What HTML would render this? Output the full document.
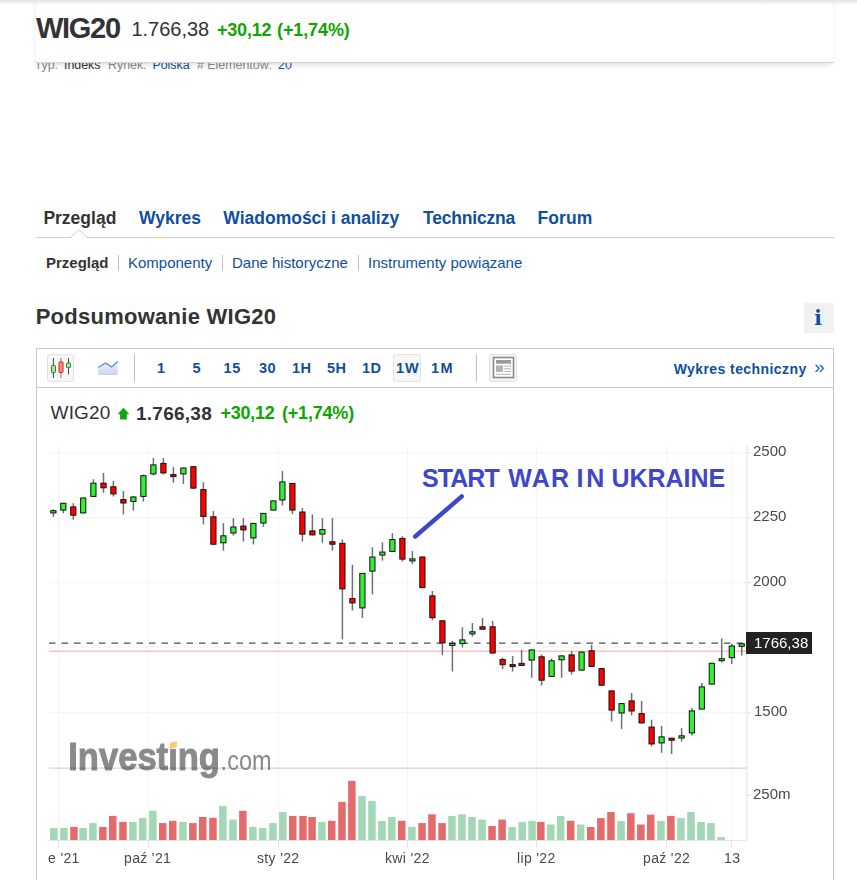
<!DOCTYPE html>
<html lang="pl">
<head>
<meta charset="utf-8">
<title>WIG20 - Podsumowanie</title>
<style>
*{box-sizing:border-box;margin:0;padding:0}
html,body{width:857px;height:880px;overflow:hidden;background:#fff}
body{position:relative;font-family:"Liberation Sans",Arial,sans-serif;color:#333}
.t{position:absolute;white-space:nowrap;line-height:1}
.b{font-weight:bold}
.blue{color:#0f4f9e}
.grn{color:#0ea600}
.gray{color:#8a8a8a}
#topshadow{position:absolute;left:0;top:0;width:857px;height:5px;background:linear-gradient(#e2e2e2,rgba(255,255,255,0))}
#sticky{position:absolute;left:35px;top:-10px;width:799px;height:72px;background:#fff;border-left:1px solid #f7f7f7;border-right:1px solid #f7f7f7;box-shadow:0 1px 0 #d4d4d4,0 5px 6px -3px rgba(0,0,0,.16)}
#tabline{position:absolute;left:36px;top:237px;width:798px;height:1px;background:#cfcfcf}
.sep{position:absolute;width:1px;background:#c4c4c4}
#info{position:absolute;left:804px;top:303px;width:30px;height:30px;background:#f1f1f1}
#chartbox{position:absolute;left:36px;top:348px;width:798px;height:600px;border:1px solid #c9c9c9}
#tb{position:absolute;left:36px;top:387px;width:798px;height:1px;background:#c9c9c9}
.btn{position:absolute;border:1px solid #e2e2e2;background:#f6f6f6;border-radius:3px}
.vsep{position:absolute;width:1px;background:#c3c3c3}
.tf{position:absolute;top:361px;font-size:14.5px;letter-spacing:0.5px;font-weight:bold;color:#0f4f9e;line-height:14px}
.ax{position:absolute;font-size:14px;letter-spacing:0.35px;color:#4a4a4a;line-height:14px;white-space:nowrap}
</style>
</head>
<body>

<!-- sub header (partly hidden under sticky bar) -->
<div class="t gray" style="left:34.6px;top:58.6px;font-size:12.4px">Typ:</div>
<div class="t" style="left:64px;top:58.6px;font-size:12.4px">Indeks</div>
<div class="t gray" style="left:108px;top:58.6px;font-size:12.4px">Rynek:</div>
<div class="t blue" style="left:152.4px;top:58.6px;font-size:12.4px">Polska</div>
<div class="t gray" style="left:197px;top:58.6px;font-size:12.4px"># Elementów:</div>
<div class="t blue" style="left:278px;top:58.6px;font-size:12.4px">20</div>

<!-- sticky header -->
<div id="sticky"></div>
<div class="t b" style="left:36px;top:13.5px;font-size:29px;letter-spacing:-1.3px;color:#333">WIG20</div>
<div class="t" style="left:131.4px;top:19.2px;font-size:20px;color:#333">1.766,38</div>
<div class="t b grn" style="left:217px;top:21px;font-size:18px;letter-spacing:-0.2px">+30,12</div>
<div class="t b grn" style="left:277px;top:21px;font-size:18px;letter-spacing:-0.1px">(+1,74%)</div>

<div id="topshadow"></div>
<!-- main tabs -->
<div class="t b" style="left:43.4px;top:209.7px;font-size:17.5px;color:#333">Przegląd</div>
<div class="t b blue" style="left:139px;top:209.7px;font-size:17.5px">Wykres</div>
<div class="t b blue" style="left:223.3px;top:209.7px;font-size:17.5px">Wiadomości i analizy</div>
<div class="t b blue" style="left:423px;top:209.7px;font-size:17.5px;letter-spacing:-0.2px">Techniczna</div>
<div class="t b blue" style="left:537.4px;top:209.7px;font-size:17.5px;letter-spacing:0.1px">Forum</div>
<div id="tabline"></div>
<svg style="position:absolute;left:70px;top:229px" width="19" height="10" viewBox="0 0 19 10"><polygon points="0.5,8.5 9,0.8 17.5,8.5" fill="#fff" stroke="#cfcfcf" stroke-width="1"/><rect x="1.5" y="8" width="15" height="2" fill="#fff"/></svg>

<!-- sub tabs -->
<div class="t b" style="left:46px;top:255px;font-size:15px;color:#333">Przegląd</div>
<div class="sep" style="left:118px;top:255px;height:15.5px"></div>
<div class="t blue" style="left:128px;top:255px;font-size:15px">Komponenty</div>
<div class="sep" style="left:222px;top:255px;height:15.5px"></div>
<div class="t blue" style="left:232px;top:255px;font-size:15px">Dane historyczne</div>
<div class="sep" style="left:358px;top:255px;height:15.5px"></div>
<div class="t blue" style="left:368px;top:255px;font-size:15px">Instrumenty powiązane</div>

<!-- heading -->
<div class="t b" style="left:35.7px;top:306.2px;font-size:22px;letter-spacing:0.26px;color:#333">Podsumowanie WIG20</div>
<div id="info"></div>
<div class="t b blue" style="left:814.2px;top:307.6px;font-size:20px;font-family:'DejaVu Serif',serif">i</div>

<!-- chart box -->
<div id="chartbox"></div>
<div id="tb"></div>
<!-- candle icon button -->
<div class="btn" style="left:47px;top:354px;width:27px;height:28px"></div>
<svg style="position:absolute;left:47px;top:354px" width="27" height="28" viewBox="0 0 27 28">
<line x1="6.4" y1="4" x2="6.4" y2="24" stroke="#444" stroke-width="1"/>
<rect x="4.5" y="11.5" width="4" height="7" rx="0.6" fill="#a6dca6" stroke="#1f9a1f" stroke-width="1"/>
<line x1="13.9" y1="4" x2="13.9" y2="24" stroke="#777" stroke-width="1"/>
<rect x="12" y="8" width="4" height="10.5" rx="0.8" fill="#f88" stroke="#d42020" stroke-width="1"/>
<line x1="21.5" y1="4" x2="21.5" y2="20.5" stroke="#444" stroke-width="1"/>
<rect x="19.5" y="9" width="4" height="4.6" rx="0.6" fill="#a6dca6" stroke="#1f9a1f" stroke-width="1"/>
</svg>
<!-- line icon -->
<svg style="position:absolute;left:96px;top:359px" width="24" height="18" viewBox="0 0 24 18">
<defs><linearGradient id="lg" x1="0" y1="0" x2="0" y2="1"><stop offset="0" stop-color="#eef2fb"/><stop offset="1" stop-color="#c9d6f1"/></linearGradient></defs>
<polygon points="2.2,8.5 9.5,4 15.6,7.9 21.7,2.4 21.7,15.5 2.2,15.5" fill="url(#lg)"/>
<line x1="2.2" y1="15.5" x2="21.7" y2="15.5" stroke="#c9cfdc" stroke-width="1"/>
<polyline points="2.2,8.5 9.5,4 15.6,7.9 21.7,2.4" fill="none" stroke="#5d8ccb" stroke-width="1.3"/>
</svg>
<div class="vsep" style="left:134px;top:354px;height:28px"></div>
<div class="tf" style="left:157px">1</div>
<div class="tf" style="left:192.4px">5</div>
<div class="tf" style="left:223.6px">15</div>
<div class="tf" style="left:259px">30</div>
<div class="tf" style="left:292px">1H</div>
<div class="tf" style="left:327px">5H</div>
<div class="btn" style="left:393px;top:354px;width:28px;height:28px"></div>
<div class="tf" style="left:362px">1D</div>
<div class="tf" style="left:396px;letter-spacing:1px">1W</div>
<div class="tf" style="left:431px;letter-spacing:1.4px">1M</div>
<div class="vsep" style="left:476px;top:354px;height:28px"></div>
<div class="btn" style="left:489px;top:354px;width:28px;height:28px"></div>
<svg style="position:absolute;left:489px;top:354px" width="28" height="28" viewBox="0 0 28 28">
<rect x="4.5" y="3.5" width="20" height="20" fill="#fff" stroke="#8a8a8a" stroke-width="1.6"/>
<rect x="7" y="6" width="15" height="3.7" fill="#999"/>
<rect x="7" y="11.4" width="7" height="6.6" fill="#b4b4b4"/>
<rect x="15.2" y="11.6" width="6.8" height="1.1" fill="#bbb"/>
<rect x="15.2" y="14.2" width="6.8" height="1.1" fill="#bbb"/>
<rect x="15.2" y="16.9" width="6.8" height="1.1" fill="#bbb"/>
<rect x="7" y="19.8" width="15" height="1.1" fill="#bbb"/>
</svg>
<div class="t b blue" style="left:673.7px;top:361.6px;font-size:14px;letter-spacing:0.42px;line-height:14px">Wykres techniczny</div>
<div class="t blue" style="left:814.3px;top:356.5px;font-size:18.5px;line-height:19px;color:#2a5fa8">»</div>

<!-- chart header -->
<div class="t" style="left:50.5px;top:403px;font-size:19px;letter-spacing:0.2px;color:#333">WIG20</div>
<svg style="position:absolute;left:117px;top:407px" width="13" height="13" viewBox="0 0 13 13"><polygon points="6.5,0.8 12.4,7.2 9.8,7.2 9.8,12.5 3.1,12.5 3.1,7.2 0.6,7.2" fill="#10a60a"/></svg>
<div class="t b" style="left:136px;top:404.2px;font-size:19px;letter-spacing:0.25px;color:#333">1.766,38</div>
<div class="t b grn" style="left:220.5px;top:403.6px;font-size:18px;letter-spacing:-0.25px">+30,12</div>
<div class="t b grn" style="left:282px;top:403.6px;font-size:18px;letter-spacing:-0.2px">(+1,74%)</div>

<!-- chart -->
<svg style="position:absolute;left:0;top:0" width="857" height="880" viewBox="0 0 857 880">
<defs><clipPath id="plot"><rect x="49" y="440" width="697.5" height="330"/></clipPath></defs>
<line x1="49" y1="452.7" x2="746" y2="452.7" stroke="#f6f6f6" stroke-width="1.5"/>
<line x1="49" y1="517.9" x2="746" y2="517.9" stroke="#f6f6f6" stroke-width="1.5"/>
<line x1="49" y1="582.6" x2="746" y2="582.6" stroke="#f6f6f6" stroke-width="1.5"/>
<line x1="49" y1="647.6" x2="746" y2="647.6" stroke="#f6f6f6" stroke-width="1.5"/>
<line x1="49" y1="712.8" x2="746" y2="712.8" stroke="#f6f6f6" stroke-width="1.5"/>
<line x1="58.5" y1="445" x2="58.5" y2="840" stroke="#f5f5f7" stroke-width="1"/>
<line x1="148.5" y1="445" x2="148.5" y2="840" stroke="#f5f5f7" stroke-width="1"/>
<line x1="278.5" y1="445" x2="278.5" y2="840" stroke="#f5f5f7" stroke-width="1"/>
<line x1="407.5" y1="445" x2="407.5" y2="840" stroke="#f5f5f7" stroke-width="1"/>
<line x1="536.5" y1="445" x2="536.5" y2="840" stroke="#f5f5f7" stroke-width="1"/>
<line x1="666.5" y1="445" x2="666.5" y2="840" stroke="#f5f5f7" stroke-width="1"/>
<line x1="731.5" y1="445" x2="731.5" y2="840" stroke="#f5f5f7" stroke-width="1"/>
<rect x="50.1" y="828.0" width="7.5" height="12.0" fill="#a3d7b5"/>
<rect x="60.2" y="828.0" width="7.5" height="12.0" fill="#a3d7b5"/>
<rect x="70.2" y="826.9" width="7.5" height="13.1" fill="#e46b6b"/>
<rect x="79.3" y="828.0" width="7.5" height="12.0" fill="#a3d7b5"/>
<rect x="89.2" y="823.1" width="7.5" height="16.9" fill="#a3d7b5"/>
<rect x="99.1" y="826.9" width="7.5" height="13.1" fill="#e46b6b"/>
<rect x="109.0" y="815.9" width="7.5" height="24.1" fill="#e46b6b"/>
<rect x="119.2" y="821.9" width="7.5" height="18.1" fill="#e46b6b"/>
<rect x="129.1" y="821.9" width="7.5" height="18.1" fill="#a3d7b5"/>
<rect x="139.0" y="818.0" width="7.5" height="22.0" fill="#a3d7b5"/>
<rect x="149.1" y="810.8" width="7.5" height="29.2" fill="#a3d7b5"/>
<rect x="159.0" y="823.1" width="7.5" height="16.9" fill="#e46b6b"/>
<rect x="169.0" y="820.8" width="7.5" height="19.2" fill="#e46b6b"/>
<rect x="179.2" y="821.9" width="7.5" height="18.1" fill="#a3d7b5"/>
<rect x="189.1" y="823.1" width="7.5" height="16.9" fill="#e46b6b"/>
<rect x="199.0" y="817.0" width="7.5" height="23.0" fill="#e46b6b"/>
<rect x="209.2" y="817.8" width="7.5" height="22.2" fill="#e46b6b"/>
<rect x="219.1" y="805.9" width="7.5" height="34.1" fill="#a3d7b5"/>
<rect x="229.25" y="819.6" width="7.5" height="20.4" fill="#a3d7b5"/>
<rect x="239.1" y="810.8" width="7.5" height="29.2" fill="#e46b6b"/>
<rect x="249.1" y="826.9" width="7.5" height="13.1" fill="#a3d7b5"/>
<rect x="259.0" y="828.0" width="7.5" height="12.0" fill="#a3d7b5"/>
<rect x="269.2" y="823.1" width="7.5" height="16.9" fill="#a3d7b5"/>
<rect x="279.1" y="812.0" width="7.5" height="28.0" fill="#a3d7b5"/>
<rect x="289.0" y="815.9" width="7.5" height="24.1" fill="#e46b6b"/>
<rect x="299.2" y="815.9" width="7.5" height="24.1" fill="#e46b6b"/>
<rect x="308.3" y="817.0" width="7.5" height="23.0" fill="#e46b6b"/>
<rect x="318.15" y="821.9" width="7.5" height="18.1" fill="#a3d7b5"/>
<rect x="328.0" y="820.8" width="7.5" height="19.2" fill="#e46b6b"/>
<rect x="338.2" y="801.9" width="7.5" height="38.1" fill="#e46b6b"/>
<rect x="348.1" y="780.9" width="7.5" height="59.1" fill="#e46b6b"/>
<rect x="358.2" y="795.9" width="7.5" height="44.1" fill="#a3d7b5"/>
<rect x="368.2" y="800.9" width="7.5" height="39.1" fill="#a3d7b5"/>
<rect x="378.2" y="821.0" width="7.5" height="19.0" fill="#a3d7b5"/>
<rect x="388.1" y="817.0" width="7.5" height="23.0" fill="#a3d7b5"/>
<rect x="398.0" y="820.8" width="7.5" height="19.2" fill="#e46b6b"/>
<rect x="408.15" y="826.9" width="7.5" height="13.1" fill="#a3d7b5"/>
<rect x="418.3" y="823.1" width="7.5" height="16.9" fill="#e46b6b"/>
<rect x="428.2" y="814.3" width="7.5" height="25.7" fill="#e46b6b"/>
<rect x="438.3" y="823.1" width="7.5" height="16.9" fill="#e46b6b"/>
<rect x="448.2" y="815.9" width="7.5" height="24.1" fill="#a3d7b5"/>
<rect x="458.2" y="814.3" width="7.5" height="25.7" fill="#a3d7b5"/>
<rect x="468.2" y="817.0" width="7.5" height="23.0" fill="#a3d7b5"/>
<rect x="478.3" y="819.6" width="7.5" height="20.4" fill="#a3d7b5"/>
<rect x="488.3" y="826.0" width="7.5" height="14.0" fill="#e46b6b"/>
<rect x="498.35" y="819.6" width="7.5" height="20.4" fill="#e46b6b"/>
<rect x="508.3" y="826.9" width="7.5" height="13.1" fill="#a3d7b5"/>
<rect x="518.4" y="821.9" width="7.5" height="18.1" fill="#a3d7b5"/>
<rect x="528.3" y="820.8" width="7.5" height="19.2" fill="#a3d7b5"/>
<rect x="537.1" y="821.9" width="7.5" height="18.1" fill="#e46b6b"/>
<rect x="547.0" y="824.5" width="7.5" height="15.5" fill="#a3d7b5"/>
<rect x="556.9" y="815.9" width="7.5" height="24.1" fill="#a3d7b5"/>
<rect x="566.9" y="820.8" width="7.5" height="19.2" fill="#e46b6b"/>
<rect x="576.9" y="824.5" width="7.5" height="15.5" fill="#a3d7b5"/>
<rect x="587.0" y="827.0" width="7.5" height="13.0" fill="#e46b6b"/>
<rect x="597.1" y="818.1" width="7.5" height="21.9" fill="#e46b6b"/>
<rect x="607.2" y="812.0" width="7.5" height="28.0" fill="#e46b6b"/>
<rect x="617.3" y="821.0" width="7.5" height="19.0" fill="#a3d7b5"/>
<rect x="627.1" y="813.2" width="7.5" height="26.8" fill="#e46b6b"/>
<rect x="637.1" y="824.5" width="7.5" height="15.5" fill="#e46b6b"/>
<rect x="647.0" y="814.6" width="7.5" height="25.4" fill="#e46b6b"/>
<rect x="657.2" y="821.0" width="7.5" height="19.0" fill="#a3d7b5"/>
<rect x="667.15" y="815.9" width="7.5" height="24.1" fill="#e46b6b"/>
<rect x="677.15" y="818.1" width="7.5" height="21.9" fill="#a3d7b5"/>
<rect x="687.2" y="812.0" width="7.5" height="28.0" fill="#a3d7b5"/>
<rect x="697.3" y="821.9" width="7.5" height="18.1" fill="#a3d7b5"/>
<rect x="707.2" y="823.1" width="7.5" height="16.9" fill="#a3d7b5"/>
<rect x="717.3" y="837.1" width="7.5" height="2.9" fill="#a3d7b5"/>
<!-- separator between price and volume -->

<!-- axes -->
<line x1="746.8" y1="445" x2="746.8" y2="840.5" stroke="#e1e6ef" stroke-width="1.2"/>
<line x1="49" y1="840.5" x2="747" y2="840.5" stroke="#e1e6ef" stroke-width="1"/>
<g stroke="#dde2ec" stroke-width="1.1">
<line x1="747" y1="452.7" x2="751" y2="452.7"/>
<line x1="747" y1="517.9" x2="751" y2="517.9"/>
<line x1="747" y1="582.6" x2="751" y2="582.6"/>
<line x1="747" y1="712.8" x2="751" y2="712.8"/>
<line x1="747" y1="795.3" x2="751" y2="795.3"/>
<line x1="58.5" y1="841" x2="58.5" y2="847.8"/>
<line x1="148.5" y1="841" x2="148.5" y2="847.8"/>
<line x1="278.5" y1="841" x2="278.5" y2="847.8"/>
<line x1="407.5" y1="841" x2="407.5" y2="847.8"/>
<line x1="536.5" y1="841" x2="536.5" y2="847.8"/>
<line x1="666.5" y1="841" x2="666.5" y2="847.8"/>
<line x1="731.5" y1="841" x2="731.5" y2="847.8"/>
</g>
<!-- last price lines -->
<line x1="49" y1="651.3" x2="746" y2="651.3" stroke="#ffc2c2" stroke-width="1.4"/>
<line x1="49" y1="643.1" x2="746" y2="643.1" stroke="#4e4e4e" stroke-width="1.25" stroke-dasharray="6.5 6"/>
<g clip-path="url(#plot)">
<line x1="53.4" y1="509.4" x2="53.4" y2="516.8" stroke="#6a7277" stroke-width="1.5"/>
<rect x="50.8" y="510.7" width="5.2" height="2.2" fill="#32f032" stroke="#111" stroke-width="1"/>
<line x1="63.3" y1="502.8" x2="63.3" y2="513.2" stroke="#6a7277" stroke-width="1.5"/>
<rect x="60.7" y="503.3" width="5.2" height="6.8" fill="#32f032" stroke="#111" stroke-width="1"/>
<line x1="73.3" y1="503.2" x2="73.3" y2="519.7" stroke="#6a7277" stroke-width="1.5"/>
<rect x="70.7" y="506.9" width="5.2" height="8.3" fill="#ff0000" stroke="#111" stroke-width="1"/>
<line x1="83.2" y1="497.5" x2="83.2" y2="513.4" stroke="#6a7277" stroke-width="1.5"/>
<rect x="80.6" y="498.0" width="5.2" height="14.9" fill="#32f032" stroke="#111" stroke-width="1"/>
<line x1="93.4" y1="479.3" x2="93.4" y2="496.9" stroke="#6a7277" stroke-width="1.5"/>
<rect x="90.8" y="483.2" width="5.2" height="13.2" fill="#32f032" stroke="#111" stroke-width="1"/>
<line x1="103.5" y1="473.1" x2="103.5" y2="492.75" stroke="#6a7277" stroke-width="1.5"/>
<rect x="100.9" y="483.2" width="5.2" height="4.6" fill="#ff0000" stroke="#111" stroke-width="1"/>
<line x1="113.4" y1="480.9" x2="113.4" y2="496.5" stroke="#6a7277" stroke-width="1.5"/>
<rect x="110.8" y="486.8" width="5.2" height="7.1" fill="#ff0000" stroke="#111" stroke-width="1"/>
<line x1="123.4" y1="491.0" x2="123.4" y2="514.4" stroke="#6a7277" stroke-width="1.5"/>
<rect x="120.8" y="499.6" width="5.2" height="3.4" fill="#ff0000" stroke="#111" stroke-width="1"/>
<line x1="133.4" y1="496.0" x2="133.4" y2="510.6" stroke="#6a7277" stroke-width="1.5"/>
<rect x="130.8" y="497.0" width="5.2" height="4.4" fill="#32f032" stroke="#111" stroke-width="1"/>
<line x1="143.4" y1="474.4" x2="143.4" y2="501.5" stroke="#6a7277" stroke-width="1.5"/>
<rect x="140.8" y="475.7" width="5.2" height="20.7" fill="#32f032" stroke="#111" stroke-width="1"/>
<line x1="153.4" y1="458.1" x2="153.4" y2="475.6" stroke="#6a7277" stroke-width="1.5"/>
<rect x="150.8" y="464.9" width="5.2" height="9.0" fill="#32f032" stroke="#111" stroke-width="1"/>
<line x1="163.4" y1="458.1" x2="163.4" y2="474.4" stroke="#6a7277" stroke-width="1.5"/>
<rect x="160.8" y="463.4" width="5.2" height="9.5" fill="#ff0000" stroke="#111" stroke-width="1"/>
<line x1="173.4" y1="467.1" x2="173.4" y2="482.75" stroke="#6a7277" stroke-width="1.5"/>
<rect x="170.8" y="474.6" width="5.2" height="2.0" fill="#ff0000" stroke="#111" stroke-width="1"/>
<line x1="183.4" y1="467.5" x2="183.4" y2="484.0" stroke="#6a7277" stroke-width="1.5"/>
<rect x="180.8" y="468.0" width="5.2" height="5.9" fill="#32f032" stroke="#111" stroke-width="1"/>
<line x1="193.4" y1="466.0" x2="193.4" y2="489.1" stroke="#6a7277" stroke-width="1.5"/>
<rect x="190.8" y="466.7" width="5.2" height="21.4" fill="#ff0000" stroke="#111" stroke-width="1"/>
<line x1="203.4" y1="482.25" x2="203.4" y2="524.4" stroke="#6a7277" stroke-width="1.5"/>
<rect x="200.8" y="489.6" width="5.2" height="26.8" fill="#ff0000" stroke="#111" stroke-width="1"/>
<line x1="213.4" y1="511.0" x2="213.4" y2="545.25" stroke="#6a7277" stroke-width="1.5"/>
<rect x="210.8" y="516.8" width="5.2" height="27.4" fill="#ff0000" stroke="#111" stroke-width="1"/>
<line x1="223.4" y1="523.1" x2="223.4" y2="550.6" stroke="#6a7277" stroke-width="1.5"/>
<rect x="220.8" y="535.8" width="5.2" height="7.0" fill="#32f032" stroke="#111" stroke-width="1"/>
<line x1="233.4" y1="518.1" x2="233.4" y2="535.6" stroke="#6a7277" stroke-width="1.5"/>
<rect x="230.8" y="527.0" width="5.2" height="6.0" fill="#32f032" stroke="#111" stroke-width="1"/>
<line x1="243.4" y1="518.1" x2="243.4" y2="541.6" stroke="#6a7277" stroke-width="1.5"/>
<rect x="240.8" y="526.1" width="5.2" height="3.8" fill="#ff0000" stroke="#111" stroke-width="1"/>
<line x1="253.4" y1="522.9" x2="253.4" y2="544.4" stroke="#6a7277" stroke-width="1.5"/>
<rect x="250.8" y="523.4" width="5.2" height="14.5" fill="#32f032" stroke="#111" stroke-width="1"/>
<line x1="263.4" y1="512.9" x2="263.4" y2="526.9" stroke="#6a7277" stroke-width="1.5"/>
<rect x="260.8" y="513.4" width="5.2" height="9.6" fill="#32f032" stroke="#111" stroke-width="1"/>
<line x1="273.4" y1="500.4" x2="273.4" y2="510.6" stroke="#6a7277" stroke-width="1.5"/>
<rect x="270.8" y="500.9" width="5.2" height="9.2" fill="#32f032" stroke="#111" stroke-width="1"/>
<line x1="282.4" y1="471.0" x2="282.4" y2="505.6" stroke="#6a7277" stroke-width="1.5"/>
<rect x="279.8" y="481.9" width="5.2" height="18.1" fill="#32f032" stroke="#111" stroke-width="1"/>
<line x1="292.4" y1="482.9" x2="292.4" y2="514.0" stroke="#6a7277" stroke-width="1.5"/>
<rect x="289.8" y="483.4" width="5.2" height="26.7" fill="#ff0000" stroke="#111" stroke-width="1"/>
<line x1="302.4" y1="508.1" x2="302.4" y2="541.6" stroke="#6a7277" stroke-width="1.5"/>
<rect x="299.8" y="512.0" width="5.2" height="22.1" fill="#ff0000" stroke="#111" stroke-width="1"/>
<line x1="312.4" y1="514.4" x2="312.4" y2="535.4" stroke="#6a7277" stroke-width="1.5"/>
<rect x="309.8" y="530.9" width="5.2" height="4.0" fill="#ff0000" stroke="#111" stroke-width="1"/>
<line x1="322.4" y1="518.1" x2="322.4" y2="542.75" stroke="#6a7277" stroke-width="1.5"/>
<rect x="319.8" y="529.6" width="5.2" height="4.5" fill="#32f032" stroke="#111" stroke-width="1"/>
<line x1="332.4" y1="518.1" x2="332.4" y2="550.6" stroke="#6a7277" stroke-width="1.5"/>
<rect x="329.8" y="541.8" width="5.2" height="2.4" fill="#ff0000" stroke="#111" stroke-width="1"/>
<line x1="342.4" y1="539.5" x2="342.4" y2="639.3" stroke="#6a7277" stroke-width="1.5"/>
<rect x="339.8" y="543.4" width="5.2" height="45.5" fill="#ff0000" stroke="#111" stroke-width="1"/>
<line x1="352.4" y1="564.75" x2="352.4" y2="610.6" stroke="#6a7277" stroke-width="1.5"/>
<rect x="349.8" y="598.6" width="5.2" height="4.3" fill="#ff0000" stroke="#111" stroke-width="1"/>
<line x1="362.4" y1="572.9" x2="362.4" y2="617.9" stroke="#6a7277" stroke-width="1.5"/>
<rect x="359.8" y="573.4" width="5.2" height="34.5" fill="#32f032" stroke="#111" stroke-width="1"/>
<line x1="372.4" y1="547.25" x2="372.4" y2="594.4" stroke="#6a7277" stroke-width="1.5"/>
<rect x="369.8" y="557.0" width="5.2" height="14.1" fill="#32f032" stroke="#111" stroke-width="1"/>
<line x1="382.4" y1="542.25" x2="382.4" y2="560.6" stroke="#6a7277" stroke-width="1.5"/>
<rect x="379.8" y="552.1" width="5.2" height="3.0" fill="#32f032" stroke="#111" stroke-width="1"/>
<line x1="392.4" y1="533.1" x2="392.4" y2="551.9" stroke="#6a7277" stroke-width="1.5"/>
<rect x="389.8" y="539.6" width="5.2" height="11.8" fill="#32f032" stroke="#111" stroke-width="1"/>
<line x1="402.4" y1="536.25" x2="402.4" y2="561.5" stroke="#6a7277" stroke-width="1.5"/>
<rect x="399.8" y="538.4" width="5.2" height="20.7" fill="#ff0000" stroke="#111" stroke-width="1"/>
<line x1="412.4" y1="551.0" x2="412.4" y2="564.0" stroke="#6a7277" stroke-width="1.5"/>
<rect x="409.8" y="558.9" width="5.2" height="2.0" fill="#32f032" stroke="#111" stroke-width="1"/>
<line x1="422.4" y1="556.5" x2="422.4" y2="588.1" stroke="#6a7277" stroke-width="1.5"/>
<rect x="419.8" y="557.0" width="5.2" height="30.6" fill="#ff0000" stroke="#111" stroke-width="1"/>
<line x1="432.4" y1="591.0" x2="432.4" y2="620.3" stroke="#6a7277" stroke-width="1.5"/>
<rect x="429.8" y="595.9" width="5.2" height="21.8" fill="#ff0000" stroke="#111" stroke-width="1"/>
<line x1="442.4" y1="620.3" x2="442.4" y2="655.25" stroke="#6a7277" stroke-width="1.5"/>
<rect x="439.8" y="620.8" width="5.2" height="22.1" fill="#ff0000" stroke="#111" stroke-width="1"/>
<line x1="452.4" y1="641.0" x2="452.4" y2="671.5" stroke="#6a7277" stroke-width="1.5"/>
<rect x="449.8" y="643.4" width="5.2" height="2.0" fill="#32f032" stroke="#111" stroke-width="1"/>
<line x1="462.4" y1="627.25" x2="462.4" y2="647.5" stroke="#6a7277" stroke-width="1.5"/>
<rect x="459.8" y="639.9" width="5.2" height="3.7" fill="#32f032" stroke="#111" stroke-width="1"/>
<line x1="472.4" y1="623.1" x2="472.4" y2="636.5" stroke="#6a7277" stroke-width="1.5"/>
<rect x="469.8" y="631.8" width="5.2" height="2.1" fill="#32f032" stroke="#111" stroke-width="1"/>
<line x1="482.5" y1="618.1" x2="482.5" y2="629.6" stroke="#6a7277" stroke-width="1.5"/>
<rect x="479.9" y="626.8" width="5.2" height="2.4" fill="#ff0000" stroke="#111" stroke-width="1"/>
<line x1="492.6" y1="621.0" x2="492.6" y2="653.5" stroke="#6a7277" stroke-width="1.5"/>
<rect x="490.0" y="626.8" width="5.2" height="26.2" fill="#ff0000" stroke="#111" stroke-width="1"/>
<line x1="502.6" y1="657.5" x2="502.6" y2="669.1" stroke="#6a7277" stroke-width="1.5"/>
<rect x="500.0" y="659.5" width="5.2" height="5.2" fill="#ff0000" stroke="#111" stroke-width="1"/>
<line x1="512.6" y1="656.0" x2="512.6" y2="671.6" stroke="#6a7277" stroke-width="1.5"/>
<rect x="510.0" y="664.6" width="5.2" height="2.0" fill="#ff0000" stroke="#111" stroke-width="1"/>
<line x1="521.6" y1="649.75" x2="521.6" y2="665.6" stroke="#6a7277" stroke-width="1.5"/>
<rect x="519.0" y="663.4" width="5.2" height="2.0" fill="#ff0000" stroke="#111" stroke-width="1"/>
<line x1="531.7" y1="649.4" x2="531.7" y2="677.75" stroke="#6a7277" stroke-width="1.5"/>
<rect x="529.1" y="649.9" width="5.2" height="10.2" fill="#32f032" stroke="#111" stroke-width="1"/>
<line x1="541.6" y1="654.4" x2="541.6" y2="685.6" stroke="#6a7277" stroke-width="1.5"/>
<rect x="539.0" y="656.8" width="5.2" height="23.4" fill="#ff0000" stroke="#111" stroke-width="1"/>
<line x1="551.6" y1="658.5" x2="551.6" y2="676.9" stroke="#6a7277" stroke-width="1.5"/>
<rect x="549.0" y="660.8" width="5.2" height="15.6" fill="#32f032" stroke="#111" stroke-width="1"/>
<line x1="561.6" y1="655.4" x2="561.6" y2="677.75" stroke="#6a7277" stroke-width="1.5"/>
<rect x="559.0" y="655.9" width="5.2" height="3.9" fill="#32f032" stroke="#111" stroke-width="1"/>
<line x1="571.6" y1="651.0" x2="571.6" y2="674.4" stroke="#6a7277" stroke-width="1.5"/>
<rect x="569.0" y="654.9" width="5.2" height="16.2" fill="#ff0000" stroke="#111" stroke-width="1"/>
<line x1="581.6" y1="651.6" x2="581.6" y2="670.6" stroke="#6a7277" stroke-width="1.5"/>
<rect x="579.0" y="652.1" width="5.2" height="18.0" fill="#32f032" stroke="#111" stroke-width="1"/>
<line x1="591.6" y1="644.75" x2="591.6" y2="666.9" stroke="#6a7277" stroke-width="1.5"/>
<rect x="589.0" y="650.8" width="5.2" height="15.6" fill="#ff0000" stroke="#111" stroke-width="1"/>
<line x1="601.6" y1="668.1" x2="601.6" y2="685.75" stroke="#6a7277" stroke-width="1.5"/>
<rect x="599.0" y="668.6" width="5.2" height="16.6" fill="#ff0000" stroke="#111" stroke-width="1"/>
<line x1="611.6" y1="690.4" x2="611.6" y2="721.6" stroke="#6a7277" stroke-width="1.5"/>
<rect x="609.0" y="690.9" width="5.2" height="19.2" fill="#ff0000" stroke="#111" stroke-width="1"/>
<line x1="621.6" y1="703.1" x2="621.6" y2="729.0" stroke="#6a7277" stroke-width="1.5"/>
<rect x="619.0" y="703.6" width="5.2" height="9.4" fill="#32f032" stroke="#111" stroke-width="1"/>
<line x1="631.6" y1="693.1" x2="631.6" y2="715.6" stroke="#6a7277" stroke-width="1.5"/>
<rect x="629.0" y="700.9" width="5.2" height="10.1" fill="#ff0000" stroke="#111" stroke-width="1"/>
<line x1="641.6" y1="701.0" x2="641.6" y2="723.4" stroke="#6a7277" stroke-width="1.5"/>
<rect x="639.0" y="713.6" width="5.2" height="9.3" fill="#ff0000" stroke="#111" stroke-width="1"/>
<line x1="651.6" y1="719.75" x2="651.6" y2="746.6" stroke="#6a7277" stroke-width="1.5"/>
<rect x="649.0" y="727.1" width="5.2" height="16.8" fill="#ff0000" stroke="#111" stroke-width="1"/>
<line x1="661.6" y1="726.0" x2="661.6" y2="752.75" stroke="#6a7277" stroke-width="1.5"/>
<rect x="659.0" y="736.9" width="5.2" height="6.0" fill="#32f032" stroke="#111" stroke-width="1"/>
<line x1="671.6" y1="737.75" x2="671.6" y2="754.0" stroke="#6a7277" stroke-width="1.5"/>
<rect x="669.0" y="738.2" width="5.2" height="2.0" fill="#ff0000" stroke="#111" stroke-width="1"/>
<line x1="681.6" y1="728.1" x2="681.6" y2="741.5" stroke="#6a7277" stroke-width="1.5"/>
<rect x="679.0" y="735.8" width="5.2" height="2.2" fill="#32f032" stroke="#111" stroke-width="1"/>
<line x1="691.9" y1="708.1" x2="691.9" y2="735.4" stroke="#6a7277" stroke-width="1.5"/>
<rect x="689.3" y="710.9" width="5.2" height="22.0" fill="#32f032" stroke="#111" stroke-width="1"/>
<line x1="701.8" y1="683.1" x2="701.8" y2="709.6" stroke="#6a7277" stroke-width="1.5"/>
<rect x="699.2" y="686.9" width="5.2" height="22.2" fill="#32f032" stroke="#111" stroke-width="1"/>
<line x1="711.8" y1="662.8" x2="711.8" y2="684.55" stroke="#6a7277" stroke-width="1.5"/>
<rect x="709.2" y="663.3" width="5.2" height="20.8" fill="#32f032" stroke="#111" stroke-width="1"/>
<line x1="721.7" y1="638.4" x2="721.7" y2="662.5" stroke="#6a7277" stroke-width="1.5"/>
<rect x="719.1" y="658.7" width="5.2" height="2.0" fill="#32f032" stroke="#111" stroke-width="1"/>
<line x1="731.8" y1="643.7" x2="731.8" y2="664.1" stroke="#6a7277" stroke-width="1.5"/>
<rect x="729.2" y="646.0" width="5.2" height="11.7" fill="#32f032" stroke="#111" stroke-width="1"/>
<line x1="741.8" y1="643.3" x2="741.8" y2="655.5" stroke="#6a7277" stroke-width="1.5"/>
<rect x="739.1" y="643.8" width="5.2" height="2.5" fill="#32f032" stroke="#111" stroke-width="1"/>
</g>
<!-- annotation -->
<line x1="415.2" y1="536.5" x2="461.8" y2="496.4" stroke="#3f47c9" stroke-width="4.4" stroke-linecap="round"/>
<!-- price label -->
<rect x="746" y="632" width="66" height="22" fill="#222"/>
</svg>
<div class="t b" style="left:422px;top:465.6px;font-size:25px;color:#3f47c9;letter-spacing:-0.95px">START</div>
<div class="t b" style="left:508.2px;top:465.6px;font-size:25px;color:#3f47c9;letter-spacing:1.3px">WAR</div>
<div class="t b" style="left:576.6px;top:465.6px;font-size:25px;color:#3f47c9;letter-spacing:2.8px">IN</div>
<div class="t b" style="left:611.6px;top:465.6px;font-size:25px;color:#3f47c9;letter-spacing:-0.05px">UKRAINE</div>
<div style="position:absolute;left:0;top:0;width:857px;height:880px;will-change:transform;pointer-events:none">
<svg style="position:absolute;left:0;top:0" width="857" height="880" viewBox="0 0 857 880">
<text x="68.2" y="769.5" font-family="Liberation Sans, sans-serif" font-weight="bold" font-size="38" fill="#8a8a8a" stroke="#8a8a8a" stroke-width="1.0" textLength="151.8" lengthAdjust="spacingAndGlyphs">Investing</text>
<rect x="168.8" y="739.8" width="9.2" height="9.1" fill="#fff"/><polygon points="169.6,743 176.8,741.2 176.8,747.3 169.6,748.6" fill="#fcc86e"/>
<line x1="49" y1="768.2" x2="746.5" y2="768.2" stroke="rgba(0,0,0,0.17)" stroke-width="1.3"/>
<text x="220.6" y="769.5" font-family="Liberation Sans, sans-serif" font-size="27" fill="#8a8a8a" textLength="51" lengthAdjust="spacingAndGlyphs">.com</text>
</svg>
<div class="t" style="left:754px;top:635.2px;font-size:15px;color:#fff">1766,38</div>

<!-- y axis labels -->
<div class="ax" style="left:753px;top:444.3px;font-size:15px;letter-spacing:0">2500</div>
<div class="ax" style="left:753px;top:509.3px;font-size:15px;letter-spacing:0">2250</div>
<div class="ax" style="left:753px;top:574.3px;font-size:15px;letter-spacing:0">2000</div>
<div class="ax" style="left:754px;top:704.3px;font-size:15px;letter-spacing:0">1500</div>
<div class="ax" style="left:753px;top:787.3px;font-size:15px;letter-spacing:0">250m</div>
<!-- x axis labels -->
<div class="ax" style="left:48px;top:851px">e '21</div>
<div class="ax" style="left:124px;top:851px">paź '21</div>
<div class="ax" style="left:257px;top:851px">sty '22</div>
<div class="ax" style="left:385px;top:851px">kwi '22</div>
<div class="ax" style="left:517px;top:851px">lip '22</div>
<div class="ax" style="left:643px;top:851px">paź '22</div>
<div class="ax" style="left:724px;top:851px">13</div>
</div>
</body>
</html>
